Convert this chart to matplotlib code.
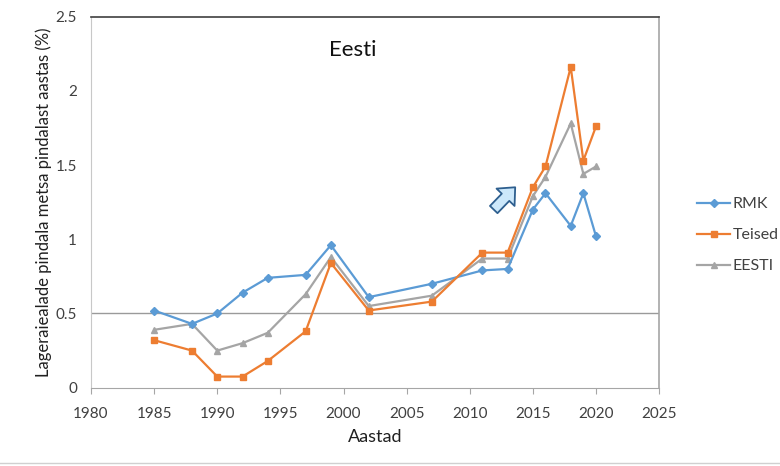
import matplotlib
matplotlib.use('Agg')
import matplotlib.pyplot as plt
from matplotlib.lines import Line2D

plt.rcParams['font.family'] = ['Lato', 'DejaVu Sans']

# data
years = [1985, 1988, 1990, 1992, 1994, 1997, 1999, 2002, 2007, 2011, 2013, 2015, 2016, 2018, 2019, 2020]
rmk = [0.52, 0.43, 0.50, 0.64, 0.74, 0.76, 0.96, 0.61, 0.70, 0.79, 0.80, 1.20, 1.31, 1.09, 1.31, 1.02]
teised = [0.32, 0.25, 0.075, 0.075, 0.18, 0.38, 0.84, 0.52, 0.58, 0.91, 0.91, 1.35, 1.49, 2.16, 1.53, 1.76]
eesti = [0.39, 0.43, 0.25, 0.30, 0.37, 0.63, 0.88, 0.55, 0.62, 0.87, 0.87, 1.29, 1.42, 1.78, 1.44, 1.49]
xticks = list(range(1980, 2026, 5))
yticks = [0, 0.5, 1, 1.5, 2, 2.5]
ytick_labels = ['0', '0.5', '1', '1.5', '2', '2.5']

c_rmk = '#5b9bd5'
c_teised = '#ed7d31'
c_eesti = '#a5a5a5'

fig = plt.figure(figsize=(7.8, 4.66), dpi=100)
ax = fig.add_axes([0.1167, 0.168, 0.7283, 0.7965])

ax.axhline(0.5, color='#9a9a9a', lw=1.0, zorder=1)

ax.plot(years, rmk, color=c_rmk, lw=1.6, marker='D', ms=4, label='RMK', zorder=3)
ax.plot(years, teised, color=c_teised, lw=1.6, marker='s', ms=5, label='Teised', zorder=4)
ax.plot(years, eesti, color=c_eesti, lw=1.6, marker='^', ms=5, label='EESTI', zorder=2)

ax.set_xlim(1980, 2025)
ax.set_ylim(0, 2.5)
ax.set_xticks(xticks)
ax.set_yticks(yticks)
ax.set_yticklabels(ytick_labels)
ax.tick_params(axis='x', direction='out', length=4, color='#a6a6a6', labelsize=11, labelcolor='#404040', pad=10)
ax.tick_params(axis='y', length=0, labelsize=11, labelcolor='#404040', pad=10)

ax.spines['top'].set_color('#404040')
ax.spines['top'].set_linewidth(1.2)
ax.spines['left'].set_color('#c8c8c8')
ax.spines['right'].set_color('#a6a6a6')
ax.spines['right'].set_linewidth(1.2)
ax.spines['bottom'].set_color('#a6a6a6')

ax.set_xlabel('Aastad', fontsize=13, color='#202020', labelpad=6)
ax.set_ylabel('Lageraiealade pindala metsa pindalast aastas (%)', fontsize=12, color='#202020', labelpad=3)
ax.text(0.461, 0.911, 'Eesti', transform=ax.transAxes, fontsize=16, ha='center', va='center', color='#101010')

# the little block arrow near 2012
ax.annotate('', xy=(2013.6, 1.35), xytext=(2011.9, 1.20),
            arrowprops=dict(arrowstyle='simple,head_width=1.8,head_length=1.0,tail_width=0.75',
                            fc='#cce8fb', ec='#2e5f8f', lw=1.3, shrinkA=0, shrinkB=0), zorder=5)

handles = [Line2D([], [], color=c_rmk, lw=1.6, marker='D', ms=4),
           Line2D([], [], color=c_teised, lw=1.6, marker='s', ms=5),
           Line2D([], [], color=c_eesti, lw=1.6, marker='^', ms=5)]
fig.legend(handles, ['RMK', 'Teised', 'EESTI'], loc='center left', bbox_to_anchor=(0.875, 0.495),
           frameon=False, fontsize=11.5, handlelength=2.1, handletextpad=0.15, labelspacing=1.05,
           labelcolor='#404040')

fig.add_artist(Line2D([0.0, 1.0], [0.006, 0.006], color='#d0d0d0', lw=1.0))

fig.savefig('out.png', dpi=100)
